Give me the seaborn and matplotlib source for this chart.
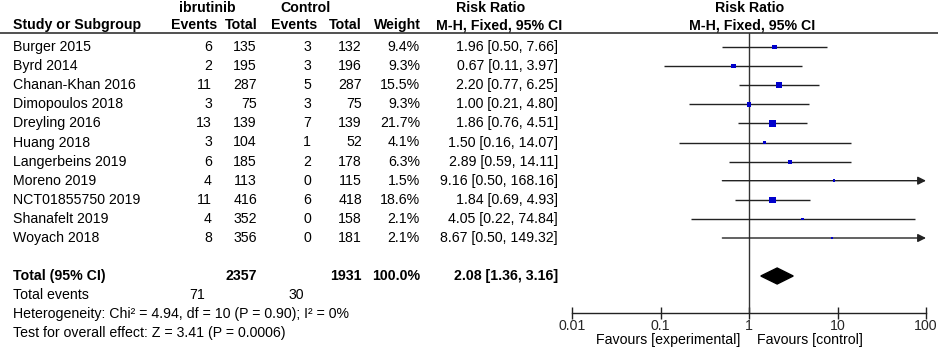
import numpy as np
import pandas as pd
import matplotlib.pyplot as plt
import seaborn as sns

sns.set_theme(style="white")
plt.rcParams["font.family"] = ["Liberation Sans", "DejaVu Sans"]
FS = 10.2

# Daten aus dem Forest-Plot
studies = ["Burger 2015", "Byrd 2014", "Chanan-Khan 2016", "Dimopoulos 2018",
           "Dreyling 2016", "Huang 2018", "Langerbeins 2019", "Moreno 2019",
           "NCT01855750 2019", "Shanafelt 2019", "Woyach 2018"]
ev_ibr  = [6, 2, 11, 3, 13, 3, 6, 4, 11, 4, 8]
tot_ibr = [135, 195, 287, 75, 139, 104, 185, 113, 416, 352, 356]
ev_ctl  = [3, 3, 5, 3, 7, 1, 2, 0, 6, 0, 0]
tot_ctl = [132, 196, 287, 75, 139, 52, 178, 115, 418, 158, 181]
weight  = [9.4, 9.3, 15.5, 9.3, 21.7, 4.1, 6.3, 1.5, 18.6, 2.1, 2.1]
rr      = [1.96, 0.67, 2.20, 1.00, 1.86, 1.50, 2.89, 9.16, 1.84, 4.05, 8.67]
ci_lo   = [0.50, 0.11, 0.77, 0.21, 0.76, 0.16, 0.59, 0.50, 0.69, 0.22, 0.50]
ci_hi   = [7.66, 3.97, 6.25, 4.80, 4.51, 14.07, 14.11, 168.16, 4.93, 74.84, 149.32]

total_n = [2357, 1931]
total_weight = 100.0
total_events = [71, 30]
total_rr = [2.08, 1.36, 3.16]
hetero_txt = "Heterogeneity: Chi\u00b2 = 4.94, df = 10 (P = 0.90); I\u00b2 = 0%"
effect_txt = "Test for overall effect: Z = 3.41 (P = 0.0006)"
ticks = [0.01, 0.1, 1, 10, 100]

df = pd.DataFrame({"study": studies, "ev_ibr": ev_ibr, "tot_ibr": tot_ibr,
                   "ev_ctl": ev_ctl, "tot_ctl": tot_ctl, "weight": weight,
                   "rr": rr, "lo": ci_lo, "hi": ci_hi})

# Layout in Pixeln (Bild 941x351)
W, H = 941, 351
df["y"] = 47 + 19.1 * np.arange(len(df))
y_tot, y_ev, y_het, y_z = 276, 295, 314, 333
y_h1, y_h2, y_line = 8, 25, 33
y_axis = 313
x_lo, x_hi = 572, 926
ink = "#222222"

fig = plt.figure(figsize=(W / 100, H / 100), dpi=100)
tab = fig.add_axes([0, 0, 1, 1])
tab.set_xlim(0, W); tab.set_ylim(H, 0)
tab.axis("off")

def txt(x, y, s, ha="left", bold=False):
    tab.text(x, y, s, ha=ha, va="center", fontsize=FS, color="black",
             fontweight="bold" if bold else "normal")

# Kopfzeilen
txt(207, y_h1, "ibrutinib", "center", True)
txt(306, y_h1, "Control", "center", True)
txt(491, y_h1, "Risk Ratio", "center", True)
txt(750, y_h1, "Risk Ratio", "center", True)
txt(13, y_h2, "Study or Subgroup", bold=True)
txt(194, y_h2, "Events", "center", True)
txt(241, y_h2, "Total", "center", True)
txt(294, y_h2, "Events", "center", True)
txt(345, y_h2, "Total", "center", True)
txt(397, y_h2, "Weight", "center", True)
txt(499, y_h2, "M-H, Fixed, 95% CI", "center", True)
txt(752, y_h2, "M-H, Fixed, 95% CI", "center", True)
tab.hlines(y_line, 0, 938, color=ink, lw=1.1)

# Studienzeilen
for _, r in df.iterrows():
    txt(13, r.y, r.study)
    txt(212, r.y, f"{r.ev_ibr:.0f}", "right")
    txt(257, r.y, f"{r.tot_ibr:.0f}", "right")
    txt(311, r.y, f"{r.ev_ctl:.0f}", "right")
    txt(362, r.y, f"{r.tot_ctl:.0f}", "right")
    txt(420, r.y, f"{r.weight:.1f}%", "right")
    txt(558, r.y, f"{r.rr:.2f} [{r.lo:.2f}, {r.hi:.2f}]", "right")

# Gesamt
txt(13, y_tot, "Total (95% CI)", bold=True)
txt(257, y_tot, f"{total_n[0]}", "right", True)
txt(362, y_tot, f"{total_n[1]}", "right", True)
txt(420, y_tot, f"{total_weight:.1f}%", "right", True)
txt(558, y_tot, f"{total_rr[0]:.2f} [{total_rr[1]:.2f}, {total_rr[2]:.2f}]", "right", True)
txt(13, y_ev, "Total events")
txt(205, y_ev, f"{total_events[0]}", "right")
txt(304, y_ev, f"{total_events[1]}", "right")
txt(13, y_het, hetero_txt)
txt(13, y_z, effect_txt)
txt(740, 340, "Favours [experimental]", "right")
txt(757, 340, "Favours [control]")

# Forest-Plot Achse
ax = fig.add_axes([x_lo / W, (H - y_axis) / H, (x_hi - x_lo) / W, (y_axis - y_line) / H])
ax.patch.set_alpha(0)
ax.set_xscale("log")
ax.set_xlim(ticks[0], ticks[-1])
ax.set_ylim(y_axis, y_line)

for _, r in df.iterrows():
    if r.hi > ticks[-1]:
        ax.annotate("", xy=(ticks[-1], r.y), xytext=(r.lo, r.y), annotation_clip=False,
                    arrowprops=dict(arrowstyle="-|>", color=ink, lw=1.0,
                                    mutation_scale=12, shrinkA=0, shrinkB=0))
    else:
        ax.hlines(r.y, r.lo, r.hi, color=ink, lw=1.0)

max_area = 25.4
sns.scatterplot(data=df, x="rr", y="y", size="weight", marker="s",
                sizes=(max_area * min(weight) / max(weight) + 1.5, max_area),
                size_norm=(min(weight), max(weight)),
                color="#0000CC", linewidth=0, legend=False, ax=ax, zorder=3)

# Raute fuer Gesamteffekt
dx = [total_rr[1], total_rr[0], total_rr[2], total_rr[0]]
dy = [y_tot, y_tot - 8, y_tot, y_tot + 8]
ax.fill(dx, dy, color="black", zorder=3)

ax.axvline(1, color="#333333", lw=1.0, zorder=1)

for s in ["top", "right", "left"]:
    ax.spines[s].set_visible(False)
ax.spines["bottom"].set_color(ink)
ax.spines["bottom"].set_linewidth(1.0)
ax.set_xticks(ticks)
ax.set_xticklabels([f"{t:g}" for t in ticks])
ax.xaxis.set_minor_locator(plt.NullLocator())
ax.set_yticks([])
ax.tick_params(axis="x", direction="inout", length=8, width=1.0, color=ink,
               labelsize=FS, pad=0.5, bottom=True)
ax.set_xlabel(""); ax.set_ylabel("")

fig.savefig("out.png", dpi=100)
